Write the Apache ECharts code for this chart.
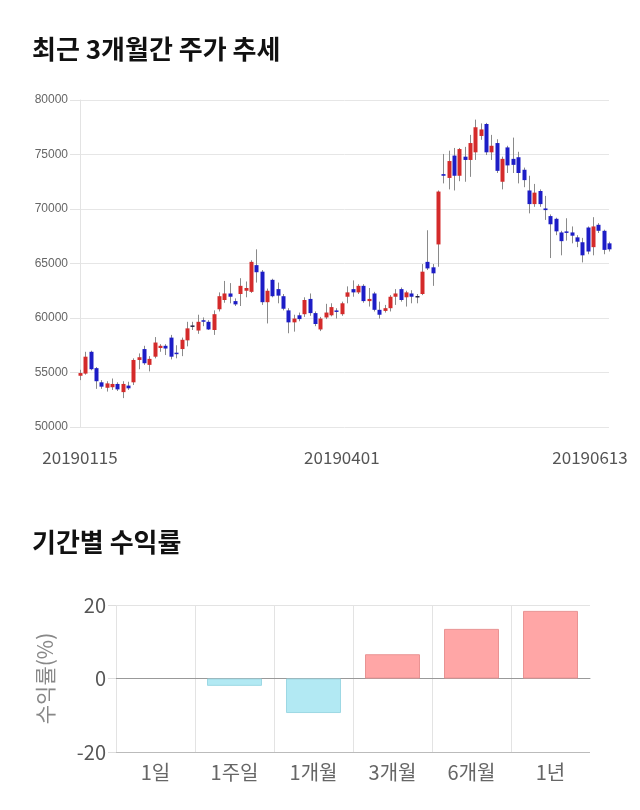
<!DOCTYPE html>
<html>
<head>
<meta charset="utf-8">
<script src="https://cdn.jsdelivr.net/npm/echarts@6/dist/echarts.min.js"></script>
<style>
html,body{margin:0;padding:0;background:#fff;}
#chart{width:640px;height:810px;}
</style>
</head>
<body>
<div id="chart"></div>
<script>
// ---- Top chart: 3-month candlestick ----
const dates = [
 '20190115','20190116','20190117','20190118','20190121','20190122','20190123','20190124','20190125','20190128','20190129','20190130','20190131',
 '20190207','20190208','20190211','20190212','20190213','20190214','20190215','20190218','20190219','20190220','20190221','20190222','20190225','20190226','20190227','20190228',
 '20190304','20190305','20190306','20190307','20190308','20190311','20190312','20190313','20190314','20190315','20190318','20190319','20190320','20190321','20190322','20190325','20190326','20190327','20190328','20190329',
 '20190401','20190402','20190403','20190404','20190405','20190408','20190409','20190410','20190411','20190412','20190415','20190416','20190417','20190418','20190419','20190422','20190423','20190424','20190425','20190426','20190429','20190430',
 '20190502','20190503','20190507','20190508','20190509','20190510','20190513','20190514','20190515','20190516','20190517','20190520','20190521','20190522','20190523','20190524','20190527','20190528','20190529','20190530','20190531',
 '20190603','20190604','20190605','20190607','20190610','20190611','20190612','20190613'
];
const opens = [
 54700,54900,56900,55400,54100,53600,53650,53950,53200,53800,54100,56150,57150,55700,56450,57250,57450,58200,56800,57150,
 57950,59250,58850,59750,59650,58900,60800,61650,62250,61550,62200,62500,62400,64850,64250,61450,63500,62650,62000,60700,
 59600,60250,60350,61750,60450,58950,60050,60250,60650,60350,61950,62650,62350,62950,61550,62250,60750,60650,60900,61950,
 62650,61900,62250,61950,62200,65150,64650,66750,73200,72850,74900,73050,74800,74500,75200,76700,77800,75200,76050,72500,
 75650,74600,74750,73600,71700,70450,71650,70050,69350,69100,67850,67900,67850,67400,66950,68300,66500,68550,68000,66850
];
const closes = [
 54950,56450,55300,54200,53700,54000,53950,53450,53950,53550,56150,56400,55850,56250,57750,57450,57200,56450,56700,58000,
 59050,59250,59650,59700,58950,60350,62000,62250,61950,61250,62950,62750,65150,64200,61450,62500,62000,62050,60850,59600,
 59950,59900,61650,60450,59450,59950,60500,61000,60600,61350,62350,62350,62950,61550,61750,60750,60300,60900,61950,62250,
 61650,62350,61950,61950,64250,64550,64100,71600,73050,74400,73050,75500,74500,76050,77500,77300,75200,75800,73500,74600,
 74000,74050,73300,72650,70450,71500,70450,69900,68600,67950,67050,67850,67550,67000,65750,66100,68400,68000,66250,66300
];
const lows = [
 54300,54800,55200,53500,53500,53250,53400,53300,52650,53400,53850,55300,55700,55100,56300,56900,56600,56200,56300,56500,
 57400,58900,58550,59250,58900,58450,60600,61400,61350,61100,61100,61900,62300,63250,61200,59500,61900,61350,60700,58600,
 58750,59700,60100,60200,59250,58800,59900,60150,59950,60200,61350,61950,62200,61400,61050,60600,59950,60500,60600,61200,
 61500,61050,61350,61350,62100,64400,62950,64700,72350,71800,71700,72550,72500,72950,74500,76350,74950,74500,73300,71800,
 73300,73300,72350,72000,69600,70200,70200,69000,65500,67600,65750,67100,66850,66500,65100,65850,65750,67800,65850,66100
];
const highs = [
 55250,56900,57000,55500,54300,54200,54450,54100,54200,54150,56300,56750,57450,56500,58250,57600,57600,58450,57500,58200,
 59650,59650,60300,60050,59800,60700,62350,63400,63200,61800,63650,63350,65300,66300,64400,62700,63600,63250,62200,60900,
 60300,60500,61900,62250,60600,60100,61300,61350,60900,61500,62900,63450,63100,63100,62750,62400,61500,61200,62100,62650,
 62800,62500,62550,62200,64950,68050,64950,71700,75050,75350,75600,75600,75700,76800,78200,77850,77900,76800,76400,74800,
 75800,76550,75250,73800,73050,72300,71800,71200,69500,69200,68000,69150,68400,67600,67350,68400,69250,68700,68100,67000
];
const priceTicks = [50000, 55000, 60000, 65000, 70000, 75000, 80000];
const dateLabelIdx = [0, 49, 99];

// ---- Bottom chart: period returns ----
const periods = ['1일', '1주일', '1개월', '3개월', '6개월', '1년'];
const returns = [0, -2.0, -9.4, 6.6, 13.5, 18.4];
const returnTicks = [-20, 0, 20];

const RED = '#d42a2a', BLUE = '#1d1dc6', DOJI = '#222244', WICK = '#8a8a8a';

const candleData = dates.map((d, i) => [i, opens[i], closes[i], lows[i], highs[i]]);

const chart = echarts.init(document.getElementById('chart'), null, {renderer: 'canvas'});
const CJK = "'Noto Sans CJK KR', 'Noto Sans', sans-serif";

chart.setOption({
  animation: false,
  backgroundColor: '#fff',
  title: [
    {text: '최근 3개월간 주가 추세', left: 27, top: 31,
     textStyle: {fontFamily: CJK, fontSize: 26, fontWeight: 'bold', color: '#111'}},
    {text: '기간별 수익률', left: 27, top: 524,
     textStyle: {fontFamily: CJK, fontSize: 26, fontWeight: 'bold', color: '#111'}}
  ],
  grid: [
    {left: 80, right: 31, top: 100, height: 327},
    {left: 116, right: 50, top: 605, height: 147}
  ],
  xAxis: [
    {
      gridIndex: 0, type: 'category', data: dates, boundaryGap: false,
      axisLine: {show: false}, axisTick: {show: false}, splitLine: {show: false},
      axisLabel: {
        interval: (idx) => dateLabelIdx.indexOf(idx) >= 0,
        margin: 22, fontFamily: CJK, fontSize: 17, color: '#555',
        formatter: (v, i) => i === 99 ? '{r|' + v + '}' : v,
        rich: {r: {padding: [0, 38, 0, 0], fontFamily: CJK, fontSize: 17, color: '#555'}}
      }
    },
    {
      gridIndex: 1, type: 'category', data: periods, boundaryGap: true,
      axisLine: {show: true, onZero: true, lineStyle: {color: '#999', width: 1}},
      axisTick: {show: false},
      splitLine: {show: true, lineStyle: {color: ['#e3e3e3', '#e3e3e3', '#e3e3e3', '#e3e3e3', '#e3e3e3', '#e3e3e3', 'rgba(0,0,0,0)']}},
      axisLabel: {margin: 10, fontFamily: CJK, fontSize: 20, color: '#666'}
    }
  ],
  yAxis: [
    {
      gridIndex: 0, type: 'value', min: priceTicks[0], max: priceTicks[priceTicks.length - 1], interval: 5000,
      axisLine: {show: true, lineStyle: {color: '#e3e3e3'}},
      axisTick: {show: true, length: 10, lineStyle: {color: '#e3e3e3'}},
      splitLine: {show: true, lineStyle: {color: '#e6e6e6'}},
      axisLabel: {margin: 12, fontFamily: "'Liberation Sans', Arial, sans-serif", fontSize: 12, color: '#666',
                  formatter: (v) => String(v)}
    },
    {
      gridIndex: 1, type: 'value', min: returnTicks[0], max: returnTicks[2], interval: 20,
      name: '수익률(%)', nameLocation: 'middle', nameGap: 60, nameRotate: 90,
      nameTextStyle: {fontFamily: CJK, fontSize: 21, color: '#888'},
      axisLine: {show: false},
      axisTick: {show: true, length: 8, lineStyle: {color: '#ddd'}},
      splitLine: {show: true, lineStyle: {color: ['#bbbbbb', '#999999', '#e3e3e3']}},
      axisLabel: {margin: 10, fontFamily: CJK, fontSize: 20, color: '#555'}
    }
  ],
  series: [
    {
      type: 'custom', xAxisIndex: 0, yAxisIndex: 0,
      data: candleData,
      encode: {x: 0, y: [1, 2, 3, 4]},
      renderItem: function (params, api) {
        const i = api.value(0);
        const o = api.value(1), c = api.value(2), l = api.value(3), h = api.value(4);
        const pO = api.coord([i, o]), pC = api.coord([i, c]);
        const pL = api.coord([i, l]), pH = api.coord([i, h]);
        const cx = Math.round(pO[0]);
        const w = 4;
        const color = c > o ? RED : (c < o ? BLUE : DOJI);
        let top = Math.min(pO[1], pC[1]);
        let hh = Math.abs(pO[1] - pC[1]);
        if (hh < 1.5) { top -= (1.5 - hh) / 2; hh = 1.5; }
        return {
          type: 'group',
          children: [
            {type: 'line', shape: {x1: cx + 0.5, y1: pH[1], x2: cx + 0.5, y2: pL[1]},
             style: {stroke: WICK, lineWidth: 1}},
            {type: 'rect', shape: {x: cx - 1.5, y: top, width: w, height: hh},
             style: {fill: color}}
          ]
        };
      }
    },
    {
      type: 'bar', xAxisIndex: 1, yAxisIndex: 1,
      barWidth: 55,
      data: returns.map(v => ({
        value: v,
        itemStyle: v > 0
          ? {color: '#ffa6a6', borderColor: '#e99393', borderWidth: 1}
          : (v < 0 ? {color: '#b2e9f3', borderColor: '#9dd8e4', borderWidth: 1}
                   : {color: 'rgba(0,0,0,0)', borderWidth: 0})
      }))
    }
  ]
});
</script>
</body>
</html>
